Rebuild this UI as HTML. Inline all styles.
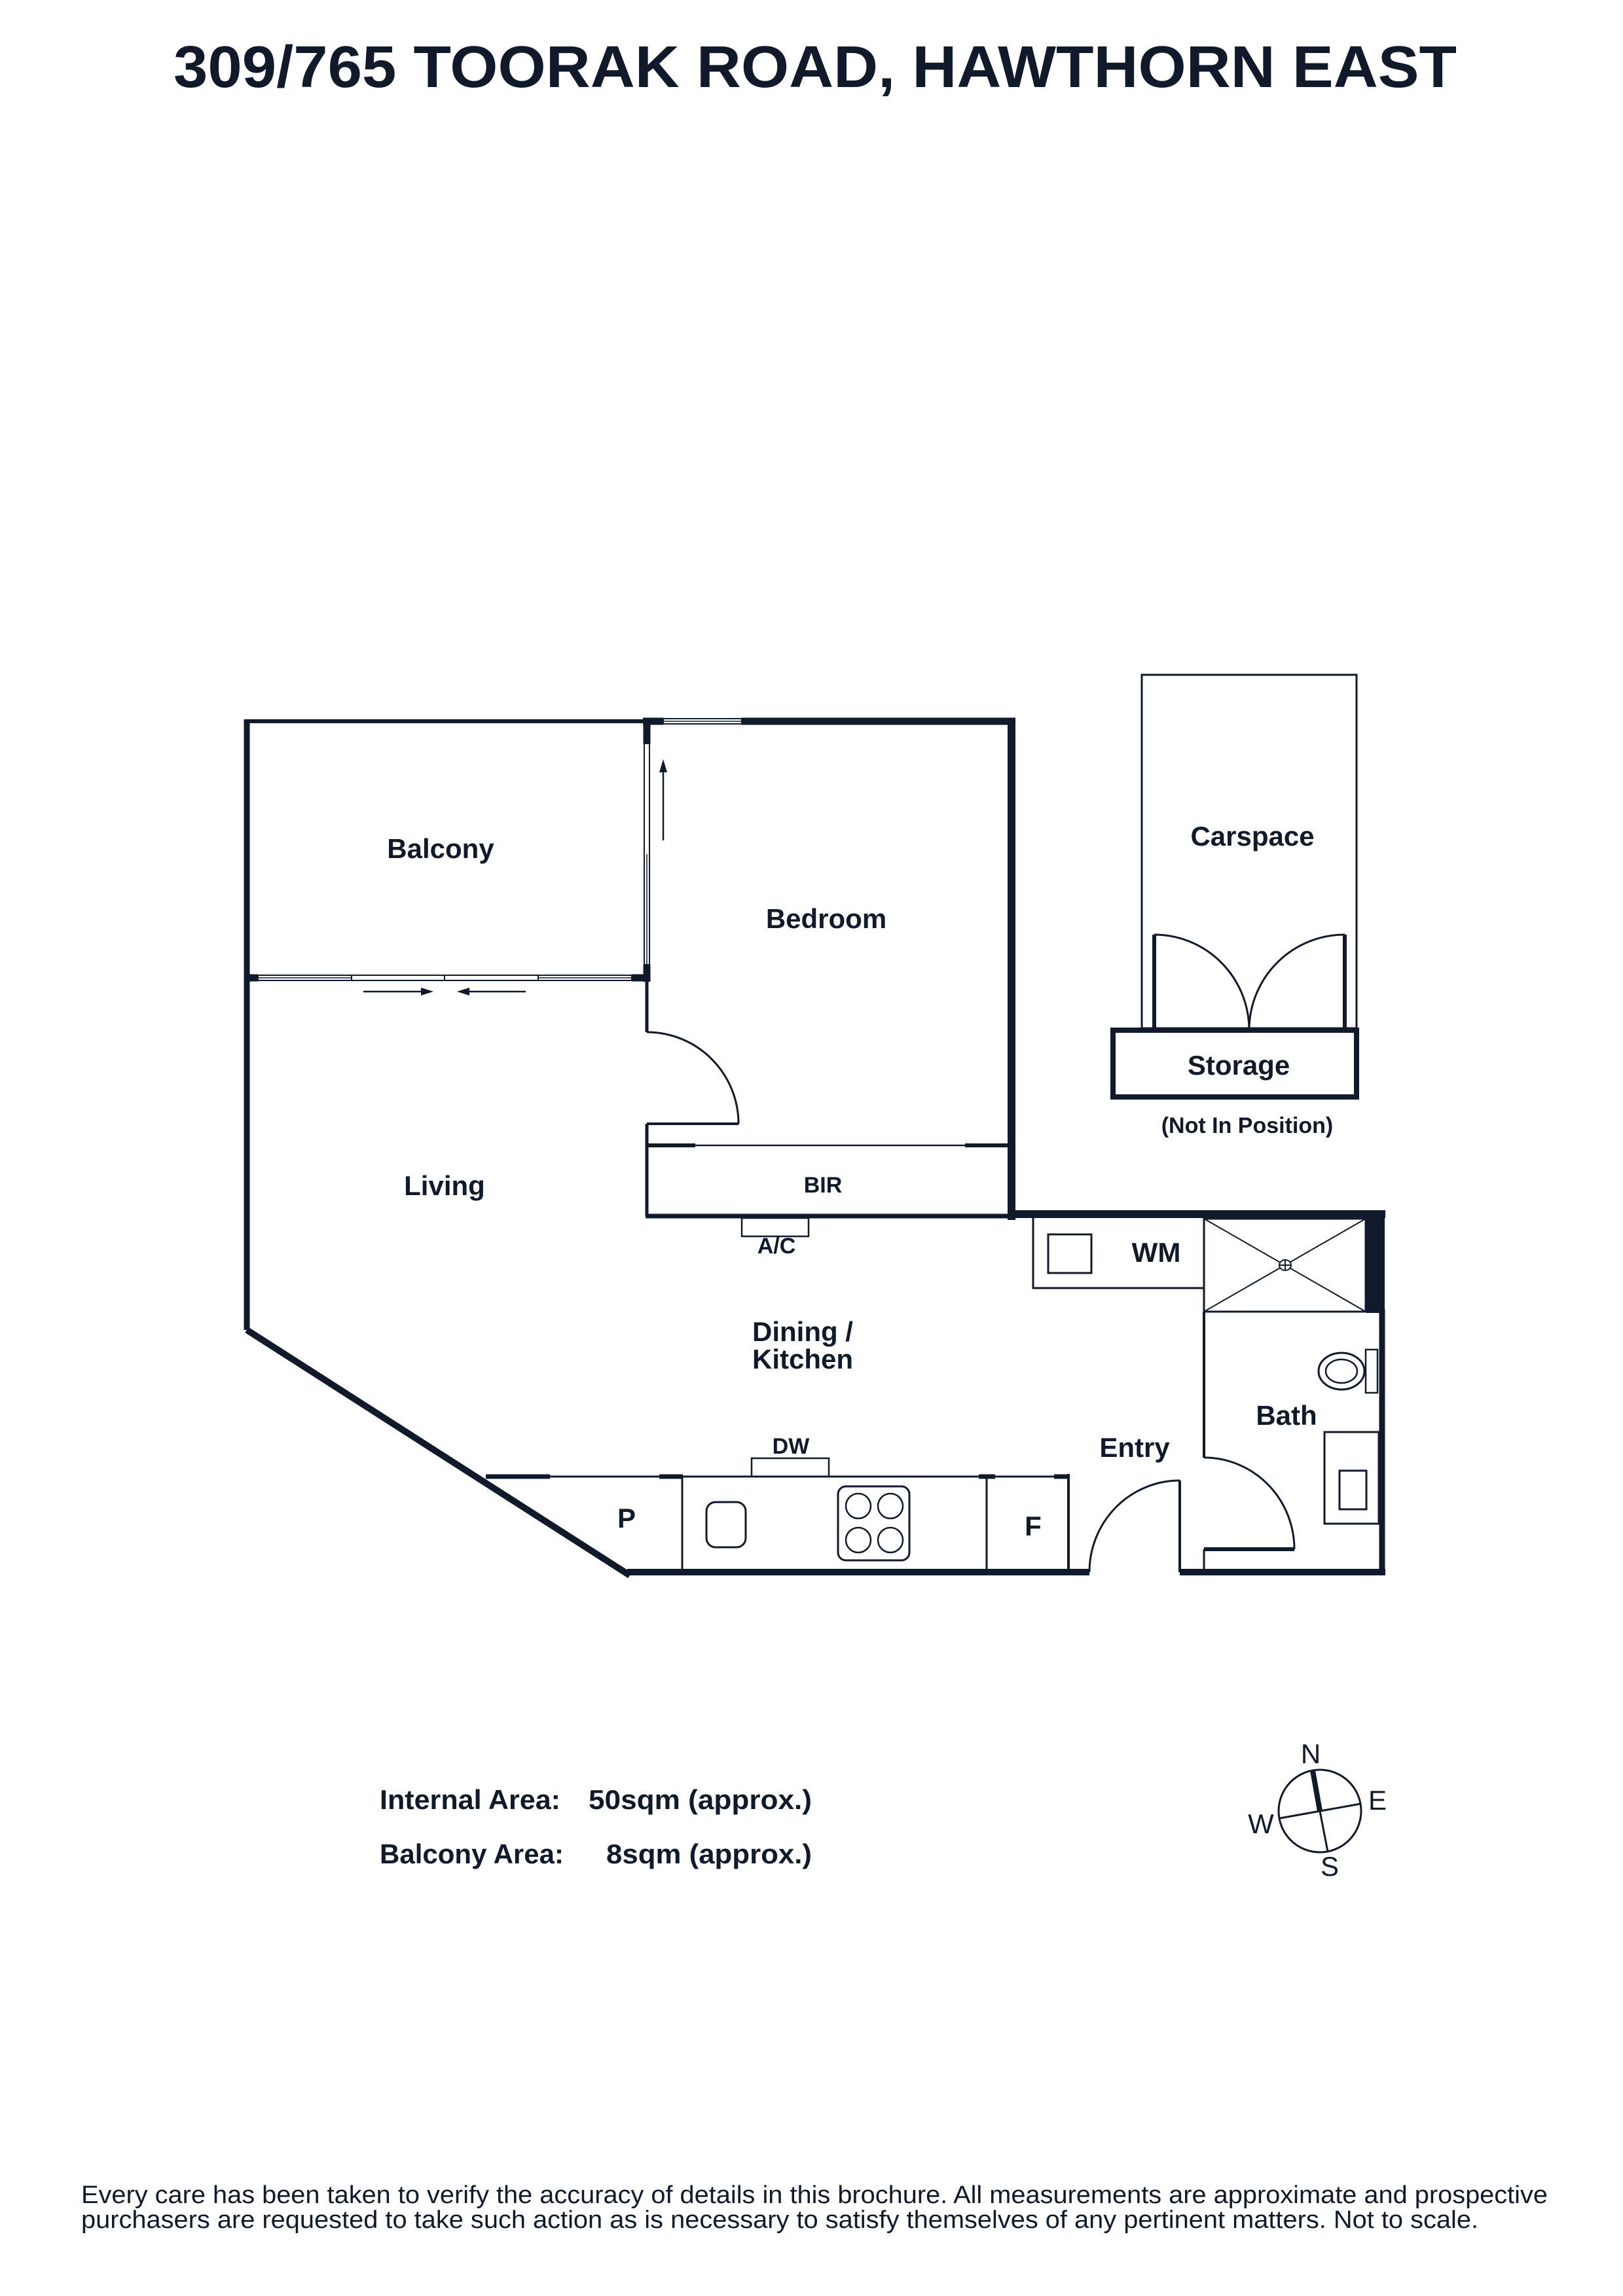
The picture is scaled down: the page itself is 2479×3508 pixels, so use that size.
<!DOCTYPE html>
<html><head><meta charset="utf-8"><style>html,body{margin:0;padding:0;background:#fff}svg{display:block}</style></head>
<body>
<svg width="2479" height="3508" viewBox="0 0 2479 3508" xmlns="http://www.w3.org/2000/svg" font-family="Liberation Sans, sans-serif" fill="none" stroke="#111a2a">
<rect x="0" y="0" width="2479" height="3508" fill="#fff" stroke="none"/>
<text x="1245" y="133" text-anchor="middle" font-size="90" font-weight="bold" fill="#111a2a" stroke="none" textLength="1960" lengthAdjust="spacingAndGlyphs">309/765 TOORAK ROAD, HAWTHORN EAST</text>

<line x1="377" y1="1102" x2="988" y2="1102" stroke-width="6"/>
<line x1="377" y1="1099" x2="377" y2="2032" stroke-width="9"/>
<line x1="982" y1="1102" x2="1013" y2="1102" stroke-width="11"/>
<line x1="1133" y1="1102" x2="1551" y2="1102" stroke-width="11"/>
<rect x="1013" y="1098" width="120" height="8" stroke-width="2"/>
<line x1="1013" y1="1102" x2="1133" y2="1102" stroke-width="1.5"/>
<line x1="988" y1="1097" x2="988" y2="1136" stroke-width="11"/>
<rect x="984" y="1136" width="8" height="338" stroke-width="2"/>
<line x1="988" y1="1305" x2="988" y2="1474" stroke-width="1.5"/>
<line x1="988" y1="1474" x2="988" y2="1500" stroke-width="11"/>
<line x1="988" y1="1494" x2="988" y2="1577" stroke-width="5"/>
<line x1="988" y1="1717" x2="988" y2="1858" stroke-width="5"/>
<line x1="1013" y1="1284" x2="1013" y2="1175" stroke-width="2.5"/>
<polygon points="1013,1160 1007,1180 1019,1180" fill="#111a2a" stroke="none"/>
<line x1="377" y1="1494" x2="394" y2="1494" stroke-width="11"/>
<line x1="965" y1="1494" x2="993" y2="1494" stroke-width="11"/>
<rect x="394" y="1490" width="571" height="8" stroke-width="2"/>
<line x1="537" y1="1490" x2="537" y2="1498" stroke-width="2"/>
<line x1="679" y1="1490" x2="679" y2="1498" stroke-width="2"/>
<line x1="822" y1="1490" x2="822" y2="1498" stroke-width="2"/>
<line x1="394" y1="1494" x2="537" y2="1494" stroke-width="1.5"/>
<line x1="822" y1="1494" x2="965" y2="1494" stroke-width="1.5"/>
<line x1="555" y1="1515" x2="648" y2="1515" stroke-width="2.5"/>
<polygon points="662,1515 643,1509 643,1521" fill="#111a2a" stroke="none"/>
<line x1="713" y1="1515" x2="803" y2="1515" stroke-width="2.5"/>
<polygon points="698,1515 717,1509 717,1521" fill="#111a2a" stroke="none"/>
<path d="M988,1577 A140,140 0 0 1 1128,1717" stroke-width="3"/>
<line x1="988" y1="1717" x2="1128" y2="1717" stroke-width="4"/>
<line x1="1545" y1="1097" x2="1545" y2="1864" stroke-width="12"/>
<line x1="988" y1="1750" x2="1545" y2="1750" stroke-width="2.5"/>
<line x1="988" y1="1750" x2="1062" y2="1750" stroke-width="6"/>
<line x1="1474" y1="1750" x2="1545" y2="1750" stroke-width="6"/>
<line x1="986" y1="1858" x2="1545" y2="1858" stroke-width="7"/>
<rect x="1133" y="1861" width="102" height="28" stroke-width="2.5"/>
<line x1="1540" y1="1855" x2="2116" y2="1855" stroke-width="12"/>
<line x1="2101" y1="1850" x2="2101" y2="2006" stroke-width="28"/>
<line x1="2111" y1="2000" x2="2111" y2="2407" stroke-width="9"/>
<polyline points="1578,1861 1578,1968 1839,1968" stroke-width="3"/>
<rect x="1601" y="1886" width="66" height="59" stroke-width="3"/>
<rect x="1839" y="1862" width="247" height="142" stroke-width="3"/>
<line x1="1839" y1="1862" x2="2086" y2="2004" stroke-width="2"/>
<line x1="2086" y1="1862" x2="1839" y2="2004" stroke-width="2"/>
<ellipse cx="1963" cy="1933" rx="9" ry="8" fill="#fff" stroke-width="2"/>
<line x1="1954" y1="1933" x2="1972" y2="1933" stroke-width="2"/>
<line x1="1963" y1="1925" x2="1963" y2="1941" stroke-width="2"/>
<line x1="1839" y1="2004" x2="1839" y2="2227" stroke-width="4"/>
<path d="M1839,2227 A138,140 0 0 1 1977,2367" stroke-width="3"/>
<line x1="1839" y1="2367" x2="1977" y2="2367" stroke-width="6"/>
<line x1="1839" y1="2367" x2="1839" y2="2402" stroke-width="3"/>
<ellipse cx="2049" cy="2095" rx="35" ry="28" stroke-width="3"/>
<ellipse cx="2049" cy="2095" rx="24" ry="18" stroke-width="2.5"/>
<rect x="2086" y="2062" width="18" height="66" stroke-width="2.5"/>
<rect x="2023" y="2188" width="83" height="140" stroke-width="3"/>
<rect x="2046" y="2247" width="41" height="59" stroke-width="3"/>
<line x1="377" y1="2032" x2="962" y2="2407" stroke-width="10"/>
<line x1="958" y1="2402" x2="1664" y2="2402" stroke-width="10"/>
<line x1="1802" y1="2402" x2="2116" y2="2402" stroke-width="10"/>
<line x1="742" y1="2256" x2="1632" y2="2256" stroke-width="3"/>
<line x1="742" y1="2256" x2="840" y2="2256" stroke-width="7"/>
<line x1="1007" y1="2256" x2="1043" y2="2256" stroke-width="7"/>
<line x1="1495" y1="2256" x2="1520" y2="2256" stroke-width="7"/>
<line x1="1610" y1="2256" x2="1632" y2="2256" stroke-width="7"/>
<line x1="1042" y1="2256" x2="1042" y2="2400" stroke-width="3"/>
<line x1="1507" y1="2256" x2="1507" y2="2400" stroke-width="3"/>
<line x1="1632" y1="2252" x2="1632" y2="2400" stroke-width="4"/>
<rect x="1148" y="2228" width="118" height="28" stroke-width="2.5"/>
<rect x="1079" y="2295" width="60" height="69" rx="14" stroke-width="3"/>
<rect x="1280" y="2271" width="109" height="113" rx="12" stroke-width="3"/>
<circle cx="1311" cy="2301" r="19" stroke-width="2.5"/>
<circle cx="1360" cy="2301" r="19" stroke-width="2.5"/>
<circle cx="1311" cy="2353" r="19" stroke-width="2.5"/>
<circle cx="1360" cy="2353" r="19" stroke-width="2.5"/>
<line x1="1802" y1="2262" x2="1802" y2="2402" stroke-width="4"/>
<path d="M1802,2262 A138,140 0 0 0 1664,2402" stroke-width="3"/>
<rect x="1744" y="1031" width="328" height="540" stroke-width="3"/>
<path d="M1763,1574 L1763,1428 M2054,1574 L2054,1428" stroke-width="6"/>
<rect x="1700" y="1574" width="372" height="102" fill="#fff" stroke-width="8"/>
<path d="M1763,1428 A145,146 0 0 1 1908,1574" stroke-width="3"/>
<path d="M2054,1428 A146,146 0 0 0 1908,1574" stroke-width="3"/>

<g fill="#111a2a" stroke="none" font-weight="bold" text-anchor="middle" font-size="42">
<text x="673" y="1311">Balcony</text>
<text x="1262" y="1418">Bedroom</text>
<text x="679" y="1826">Living</text>
<text x="1257" y="1822" font-size="34">BIR</text>
<text x="1186" y="1915" font-size="34">A/C</text>
<text x="1766" y="1928">WM</text>
<text x="1226" y="2049">Dining /</text>
<text x="1226" y="2091">Kitchen</text>
<text x="1965" y="2177">Bath</text>
<text x="1733" y="2226">Entry</text>
<text x="1208" y="2221" font-size="34">DW</text>
<text x="957" y="2334">P</text>
<text x="1578" y="2346">F</text>
<text x="1913" y="1292">Carspace</text>
<text x="1892" y="1642">Storage</text>
<text x="1905" y="1731" font-size="34">(Not In Position)</text>
</g>

<g fill="#111a2a" stroke="none" font-weight="bold" font-size="42">
<text x="580" y="2764" textLength="276" lengthAdjust="spacingAndGlyphs">Internal Area:</text>
<text x="899" y="2764" textLength="341" lengthAdjust="spacingAndGlyphs">50sqm (approx.)</text>
<text x="580" y="2847" textLength="281" lengthAdjust="spacingAndGlyphs">Balcony Area:</text>
<text x="926" y="2847" textLength="314" lengthAdjust="spacingAndGlyphs">8sqm (approx.)</text>
</g>

<circle cx="2016" cy="2767" r="63" stroke-width="3"/>
<line x1="1955" y1="2778" x2="2078" y2="2756" stroke-width="3"/>
<line x1="2016" y1="2767" x2="2028" y2="2829" stroke-width="3"/>
<line x1="2005" y1="2705" x2="2016" y2="2767" stroke-width="8"/>
<g fill="#111a2a" stroke="none" font-size="42" text-anchor="middle">
<text x="2002" y="2694">N</text>
<text x="2104" y="2765">E</text>
<text x="1926" y="2801">W</text>
<text x="2031" y="2866">S</text>
</g>

<g fill="#111a2a" stroke="none" font-size="38">
<text x="124" y="3366" textLength="2240" lengthAdjust="spacingAndGlyphs">Every care has been taken to verify the accuracy of details in this brochure. All measurements are approximate and prospective</text>
<text x="124" y="3404" textLength="2134" lengthAdjust="spacingAndGlyphs">purchasers are requested to take such action as is necessary to satisfy themselves of any pertinent matters. Not to scale.</text>
</g>
</svg>
</body></html>
